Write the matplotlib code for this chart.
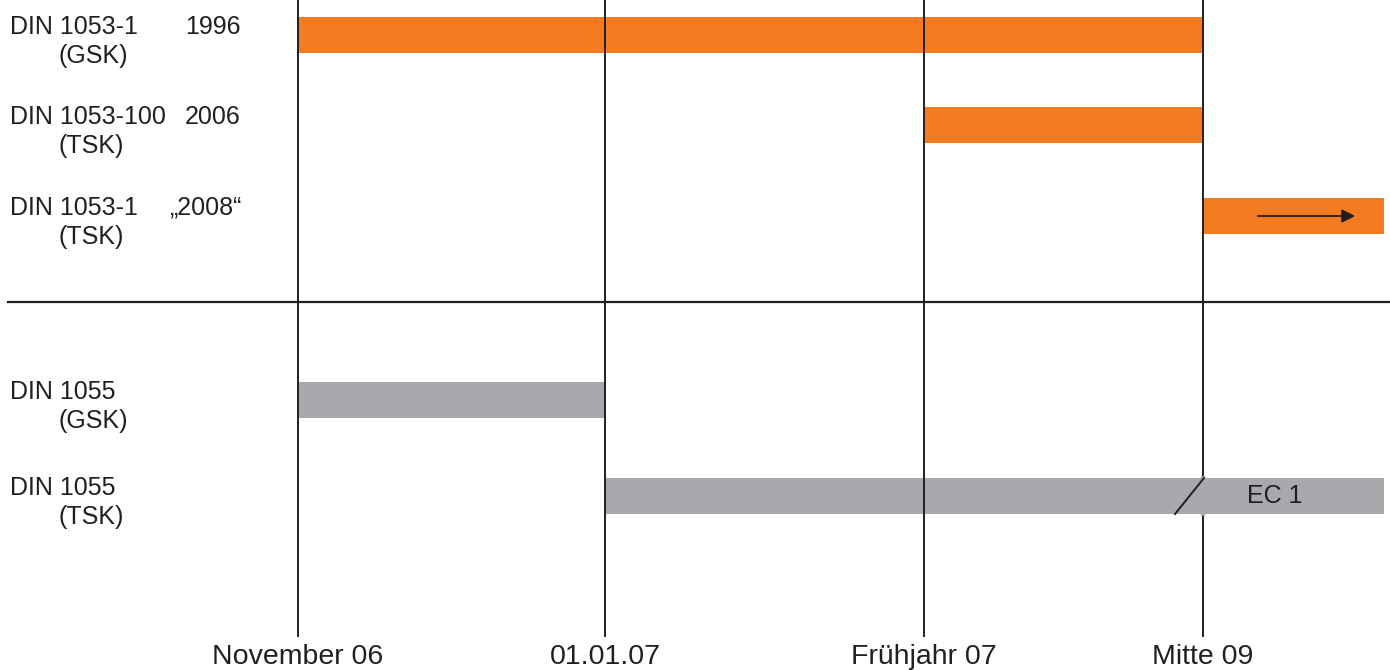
import matplotlib.pyplot as plt

plt.rcParams['font.family'] = ['Liberation Sans', 'DejaVu Sans']

# Meilensteine (Zeitachse)
milestones = ['November 06', '01.01.07', 'Frühjahr 07', 'Mitte 09']

# Normen: Name, Jahr, Nachweiskonzept
norm_names = ['DIN 1053-1', 'DIN 1053-100', 'DIN 1053-1', 'DIN 1055', 'DIN 1055']
norm_years = ['1996', '2006', '\u201e2008\u201c', '', '']
norm_concepts = ['(GSK)', '(TSK)', '(TSK)', '(GSK)', '(TSK)']
# Gueltigkeit von / bis (Index des Meilensteins, 4 = offen)
start_idx = [0, 2, 3, 0, 1]
end_idx = [3, 3, 4, 1, 4]
groups = ['Mauerwerk', 'Mauerwerk', 'Mauerwerk', 'Lasten', 'Lasten']

orange = '#F47B20'
grey = '#A7A9AC'
dark = '#231F20'

# Layout in Pixeln
ms_x = [298, 605, 924, 1203, 1384]
row_y = [35, 125, 216, 400, 496]
bar_h = 36

fig = plt.figure(figsize=(13.9, 6.7), dpi=100)
ax = fig.add_axes([0, 0, 1, 1])
ax.set_xlim(0, 1390)
ax.set_ylim(670, 0)
ax.axis('off')

# Balken
for i in range(len(norm_names)):
    x0 = ms_x[start_idx[i]]
    x1 = ms_x[end_idx[i]]
    col = orange if groups[i] == 'Mauerwerk' else grey
    ax.barh(row_y[i], x1 - x0, left=x0, height=bar_h, color=col, zorder=1)

# Senkrechte Linien an den Meilensteinen
for i, lab in enumerate(milestones):
    ax.plot([ms_x[i], ms_x[i]], [0, 636], color=dark, lw=1.4, zorder=3)
    ax.text(ms_x[i], 657, lab, ha='center', va='center', fontsize=20.5, color=dark)

# Trennlinie
ax.plot([8, 1390], [302, 302], color=dark, lw=1.6, zorder=3)

# Beschriftungen links
for i in range(len(norm_names)):
    y = row_y[i]
    ax.text(10, y - 8, norm_names[i], ha='left', va='center', fontsize=18, color=dark)
    if norm_years[i]:
        ax.text(241, y - 8, norm_years[i], ha='right', va='center', fontsize=18, color=dark)
    ax.text(59, y + 21, norm_concepts[i], ha='left', va='center', fontsize=18, color=dark)

# Pfeil (offenes Ende)
ax.annotate('', xy=(1358, row_y[2]), xytext=(1255, row_y[2]),
            arrowprops=dict(arrowstyle='-|>', color=dark, lw=1.3, mutation_scale=20),
            zorder=4)

# Uebergang zu EC 1
ax.plot([1175, 1204], [row_y[4] + bar_h / 2, row_y[4] - bar_h / 2], color=dark, lw=1.4, zorder=4)
ax.plot([1203, 1203], [row_y[4] - bar_h / 2, row_y[4] + bar_h / 2], color=grey, lw=3, zorder=3.5)
ax.text(1275, row_y[4], 'EC 1', ha='center', va='center', fontsize=18, color=dark)

fig.savefig('out.png', dpi=100)
